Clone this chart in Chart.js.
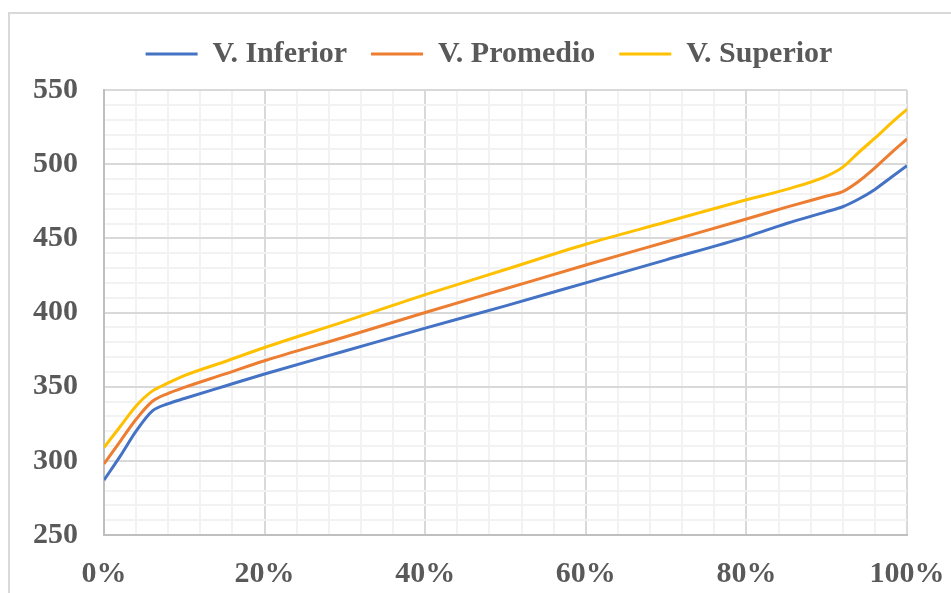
<!DOCTYPE html>
<html>
<head>
<meta charset="utf-8">
<script src="https://cdn.jsdelivr.net/npm/chart.js@4/dist/chart.umd.min.js"></script>
<style>
  html, body { margin: 0; padding: 0; background: #fff; overflow: hidden; }
  #frame { position: absolute; left: 8px; top: 12px; width: 1000px; height: 700px; border: 2px solid #d9d9d9; }
  #wrap { position: absolute; left: 0; top: 0; width: 951px; height: 593px; }
</style>
</head>
<body>
<div id="frame"></div>
<div id="wrap"><canvas id="myChart" width="951" height="593"></canvas></div>
<script>
const xPercent = [0, 2, 4, 6, 8, 10, 15, 20, 30, 40, 50, 60, 70, 80, 85, 90, 92, 94, 96, 98, 100]
const inferior = [287, 303, 320, 333.5, 338.5, 342, 350.3, 358.5, 374, 389.5, 404.5, 420, 435.5, 451, 460, 468, 471.3, 476.5, 483, 491, 499]
const promedio = [298, 313, 328, 340, 345.5, 349.5, 358.5, 367.5, 383.5, 400, 416, 432, 447.5, 463, 471, 478.5, 481.5, 488.5, 497.5, 507.5, 517]
const superior = [309, 323, 337, 347, 352.5, 357.4, 366.8, 376.4, 394, 412, 429, 446, 461, 476, 483, 492, 498, 508, 517.5, 527.5, 537]

const seriesNames = ['V. Inferior', 'V. Promedio', 'V. Superior']
const seriesColors = ['#4472c4', '#ed7d31', '#ffc000']
const seriesValues = [inferior, promedio, superior]

const textColor = '#595959'
const majorGrid = '#d9d9d9'
const minorGrid = '#f2f2f2'
const serif = '"Liberation Serif", "Times New Roman", serif'

function toPoints(vals) {
  return xPercent.map(function(x, i) { return { x: x, y: vals[i] } })
}

// room under the legend, and centre it over the plot rather than the canvas
const legendGap = {
  id: 'legendGap',
  beforeInit(chart) {
    const fit = chart.legend.fit
    chart.legend.fit = function() {
      fit.bind(chart.legend)()
      this.height += 11
    }
  },
  afterLayout(chart) {
    chart.legend.left += 71
  }
}

const ctx = document.getElementById('myChart').getContext('2d')
const myChart = new Chart(ctx, {
  type: 'line',
  data: {
    datasets: seriesValues.map(function(vals, i) {
      return {
        label: seriesNames[i],
        data: toPoints(vals),
        borderColor: seriesColors[i],
        backgroundColor: seriesColors[i],
        borderWidth: 3,
        pointRadius: 0,
        pointStyle: 'line',
        cubicInterpolationMode: 'monotone',
        fill: false
      }
    })
  },
  options: {
    responsive: false,
    animation: false,
    devicePixelRatio: 1,
    layout: { padding: { left: 0, right: 44, top: 15, bottom: 0 } },
    plugins: {
      tooltip: { enabled: false },
      legend: {
        position: 'top',
        labels: {
          usePointStyle: true,
          pointStyleWidth: 52,
          boxHeight: 3,
          padding: 24,
          color: textColor,
          font: { family: serif, size: 30, weight: 'bold' }
        }
      }
    },
    scales: {
      x: {
        type: 'linear',
        min: 0,
        max: 100,
        afterFit: function(scale) {
          scale.height = 58
          scale.paddingLeft = 0
          scale.paddingRight = 0
        },
        border: { display: true, color: '#bfbfbf', width: 2 },
        grid: {
          drawTicks: false,
          lineWidth: 2,
          color: function(c) { return c.tick && c.tick.value % 20 === 0 ? majorGrid : minorGrid }
        },
        ticks: {
          stepSize: 4,
          autoSkip: false,
          maxRotation: 0,
          padding: 21,
          color: textColor,
          font: { family: serif, size: 30, weight: 'bold' },
          callback: function(v) { return v % 20 === 0 ? v + '%' : '' }
        }
      },
      y: {
        min: 250,
        max: 550,
        afterFit: function(scale) { scale.width = 104 },
        border: { display: true, color: '#bfbfbf', width: 2 },
        grid: {
          drawTicks: false,
          lineWidth: 2,
          color: function(c) { return c.tick && c.tick.value % 50 === 0 ? majorGrid : minorGrid }
        },
        ticks: {
          stepSize: 10,
          autoSkip: false,
          padding: 26,
          color: textColor,
          font: { family: serif, size: 30, weight: 'bold' },
          callback: function(v) { return v % 50 === 0 ? v : '' }
        }
      }
    }
  },
  plugins: [legendGap]
})
</script>
</body>
</html>
